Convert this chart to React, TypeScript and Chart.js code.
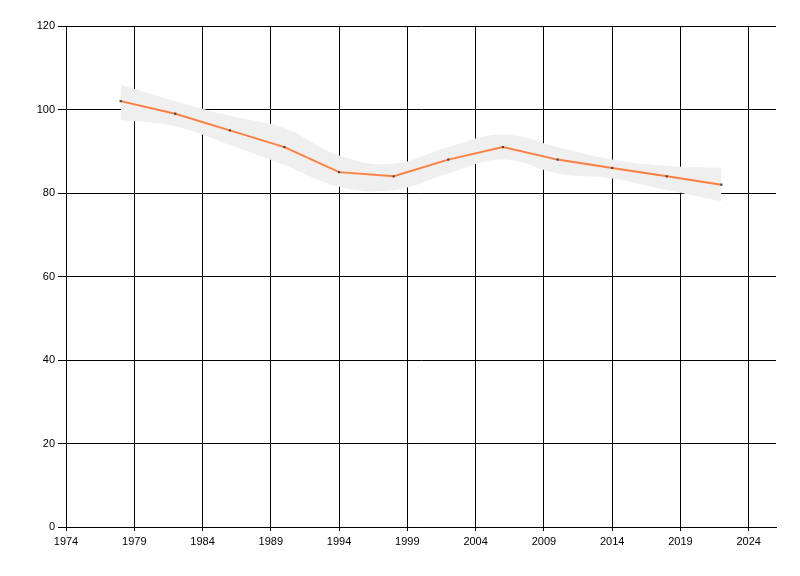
import React, { useEffect, useRef } from "react";
import { Chart, registerables } from "chart.js";

Chart.register(...registerables);

const years = [1978, 1982, 1986, 1990, 1994, 1998, 2002, 2006, 2010, 2014, 2018, 2022];
const values = [102, 99, 95, 91, 85, 84, 88, 91, 88, 86, 84, 82];
const upper = [106, 102, 98.5, 95.5, 89, 87, 91, 94, 91, 88, 86.5, 86];
const lower = [97.5, 96, 91.5, 86.7, 81.5, 80.7, 84.7, 88, 84.7, 83.5, 80.7, 78];
const xTicks = [1974, 1979, 1984, 1989, 1994, 1999, 2004, 2009, 2014, 2019, 2024];
const yTicks = [0, 20, 40, 60, 80, 100, 120];

export default function App() {
  const ref = useRef<HTMLCanvasElement | null>(null);

  useEffect(() => {
    if (!ref.current) return;
    const toPts = (arr: number[]) => years.map((y, i) => ({ x: y, y: arr[i] }));
    const font = { family: "'Liberation Sans', Arial, sans-serif", size: 11 };
    const chart = new Chart(ref.current, {
      type: "line",
      data: {
        datasets: [
          {
            label: "value",
            data: toPts(values),
            borderColor: "#FF7F40",
            borderWidth: 2,
            tension: 0,
            pointStyle: "rect",
            pointRadius: 1.5,
            pointBackgroundColor: "#404040",
            pointBorderWidth: 0,
            fill: false,
          },
          {
            label: "upper",
            data: toPts(upper),
            borderWidth: 0,
            borderColor: "rgba(0,0,0,0)",
            pointRadius: 0,
            tension: 0.4,
            fill: false,
          },
          {
            label: "lower",
            data: toPts(lower),
            borderWidth: 0,
            borderColor: "rgba(0,0,0,0)",
            backgroundColor: "#EFEFEF",
            pointRadius: 0,
            tension: 0.4,
            fill: "-1",
          },
        ],
      },
      options: {
        animation: false,
        responsive: false,
        devicePixelRatio: 1,
        layout: { padding: { top: 26, right: 24, left: 0, bottom: 0 } },
        plugins: { legend: { display: false }, tooltip: { enabled: false } },
        scales: {
          x: {
            type: "linear",
            min: 1974,
            max: 2026,
            afterBuildTicks: (scale: any) => {
              scale.ticks = xTicks.map((v) => ({ value: v }));
            },
            afterFit: (scale: any) => {
              scale.height = 49;
            },
            ticks: {
              color: "#000",
              font,
              padding: 4,
              maxRotation: 0,
              autoSkip: false,
              callback: (v: any) => String(v),
            },
            grid: { color: "#000", lineWidth: 1, tickLength: 4, drawTicks: true },
            border: { color: "#000", width: 1 },
          },
          y: {
            type: "linear",
            min: 0,
            max: 120,
            afterBuildTicks: (scale: any) => {
              scale.ticks = yTicks.map((v) => ({ value: v }));
            },
            afterFit: (scale: any) => {
              scale.width = 66;
            },
            ticks: { color: "#000", font, padding: 3 },
            grid: { color: "#000", lineWidth: 1, tickLength: 8, drawTicks: true },
            border: { color: "#000", width: 1 },
          },
        },
      },
    });
    return () => chart.destroy();
  }, []);

  return (
    <div style={{ position: "absolute", left: 0, top: 0, width: 800, height: 576, background: "#fff" }}>
      <canvas ref={ref} width={800} height={576} />
    </div>
  );
}
